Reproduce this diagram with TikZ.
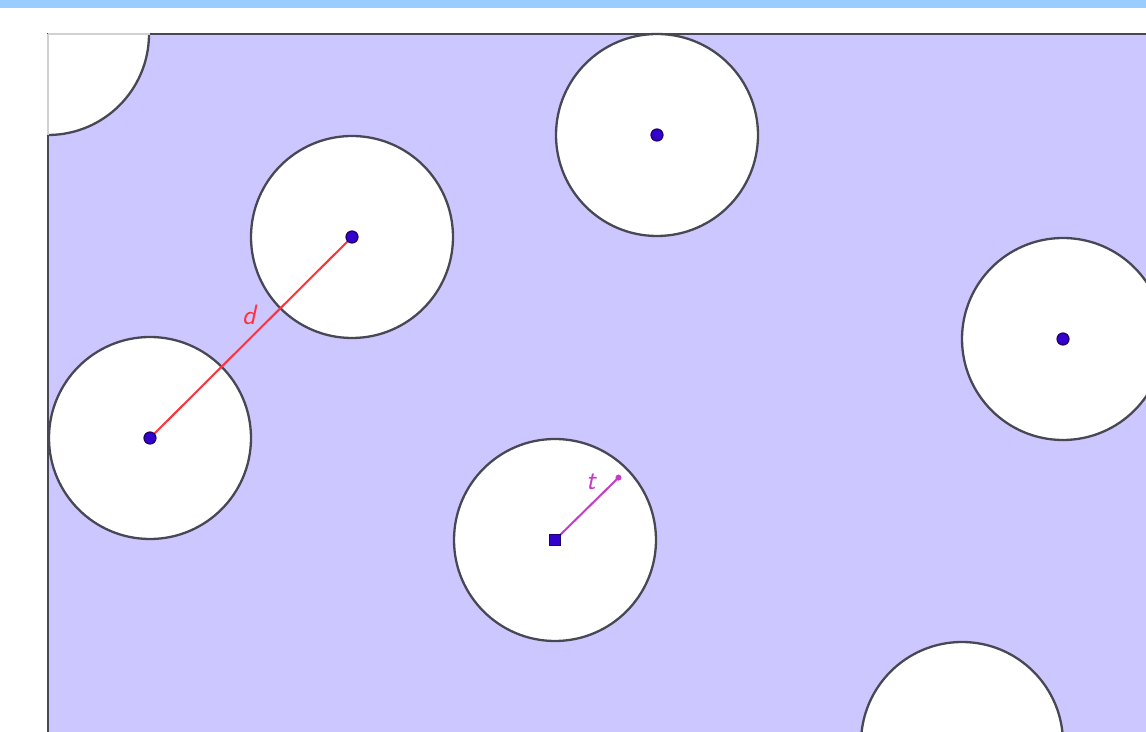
\documentclass[tikz,border=0pt]{standalone}
\usetikzlibrary{calc}
\definecolor{strip}{RGB}{153,204,255}
\definecolor{lav}{RGB}{204,200,255}
\definecolor{edge}{RGB}{72,72,84}
\definecolor{ptc}{RGB}{51,0,204}
\definecolor{ptd}{RGB}{30,0,110}
\definecolor{mag}{RGB}{196,60,196}
\definecolor{redl}{RGB}{255,50,60}
\begin{document}
\begin{tikzpicture}[x=1pt,y=1pt,
  disk/.style={circle,draw=edge,fill=white,line width=2.3pt,minimum size=202pt,inner sep=0pt},
  pt/.style={circle,fill=ptc,draw=ptd,line width=1.2pt,minimum size=12pt,inner sep=0pt},
  lbl/.style={font=\fontsize{28}{30}\selectfont\sffamily\itshape,inner sep=0pt}]
\useasboundingbox (0,0) rectangle (1146,731);
\fill[white] (0,0) rectangle (1146,731);
\fill[strip] (0,723) rectangle (1146,731);
\begin{scope}
\clip (0,0) rectangle (1146,731);
\fill[lav] (48,697) rectangle (1200,-20);
% corner disk clipped to the rectangle
\begin{scope}
\clip (48,697) rectangle (1200,-20);
\node[disk] (c1) at (48,697) {};
\end{scope}
\node[disk] (c2) at (352,494) {};
\node[disk] (c3) at (657,596) {};
\node[disk] (c4) at (150,293) {};
\node[disk] (c5) at (1063,392) {};
\node[disk] (c6) at (555,191) {};
\node[disk] (c7) at (962,-12) {};
% rectangle border
\draw[edge,line width=2.4pt] (1200,697) -- (48,697) -- (48,-20);
\draw[black!18,line width=2.4pt] (48,697) -- (150,697);
\draw[black!18,line width=2.4pt] (48,697) -- (48,596);
\end{scope}
% connectors
\coordinate (tend) at ($(c6.center)+(44.5:89)$);
\draw[redl,line width=2pt] (c4.center) -- (c2.center);
\draw[mag,line width=2pt] (c6.center) -- (tend);
\fill[mag] (tend) circle (3pt);
\node[lbl,text=redl] (dl) at (249,416) {d};
\node[lbl,text=mag] (tl) at (591,249) {t};
% points
\node[pt] (p2) at (c2.center) {};
\node[pt] (p3) at (c3.center) {};
\node[pt] (p4) at (c4.center) {};
\node[pt] (p5) at (c5.center) {};
\node[pt,rectangle,minimum size=11pt] (p6) at (c6.center) {};
\end{tikzpicture}
\end{document}
